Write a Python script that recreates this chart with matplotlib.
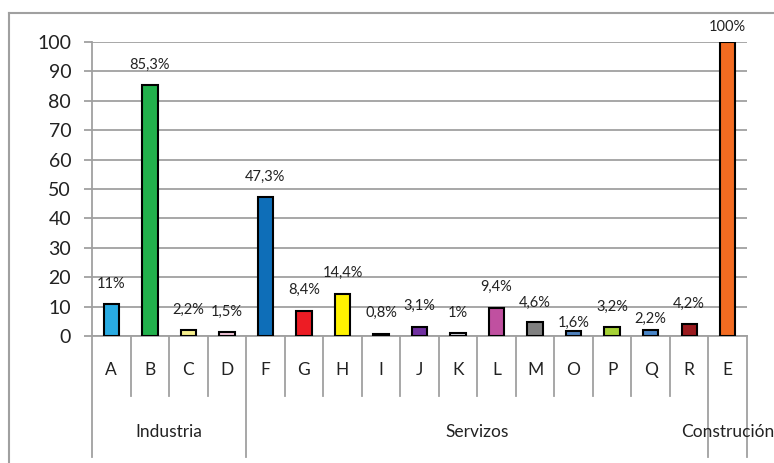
import matplotlib
matplotlib.use("Agg")
import matplotlib.pyplot as plt
from matplotlib.lines import Line2D

plt.rcParams['font.family'] = ['Lato', 'DejaVu Sans']

categories = ["A", "B", "C", "D", "F", "G", "H", "I", "J", "K", "L", "M", "O", "P", "Q", "R", "E"]
values = [11, 85.3, 2.2, 1.5, 47.3, 8.4, 14.4, 0.8, 3.1, 1.0, 9.4, 4.6, 1.6, 3.2, 2.2, 4.2, 100]
labels = ["11%", "85,3%", "2,2%", "1,5%", "47,3%", "8,4%", "14,4%", "0,8%", "3,1%", "1%",
          "9,4%", "4,6%", "1,6%", "3,2%", "2,2%", "4,2%", "100%"]
groups = ["Industria", "Servizos", "Construción"]
group_sizes = [4, 12, 1]
colors = ["#29ABE2", "#22B14C", "#F7F08E", "#F2C6DA", "#0E6EB8", "#ED1C24", "#FFF200", "#1A1A1A",
          "#7030A0", "#D9D9E3", "#C050A0", "#808080", "#4F81BD", "#A6D236", "#4A86C8", "#9B1B1F",
          "#F26B21"]
# label offsets (px above bar top) - styling
label_offsets = [20, 20, 20, 20, 20, 21, 21, 21, 21, 20, 21, 20, 8, 20, 11, 20, 15]

W, H = 774, 463
fig = plt.figure(figsize=(W / 100, H / 100), dpi=100)
ax = fig.add_axes([92 / W, 1 - 336 / H, (747 - 92) / W, (336 - 42) / H])

gray = "#A0A0A0"
x = list(range(len(categories)))
ax.bar(x, values, width=0.4, color=colors, edgecolor="black", linewidth=1.5, zorder=3)
ax.set_xlim(-0.5, len(categories) - 0.5)
ax.set_ylim(0, 100)
ax.set_yticks(range(0, 101, 10))
ax.tick_params(axis="y", length=6, color=gray, width=1.3, labelsize=14, pad=9, labelcolor="#222222")
ax.set_xticks([])
ax.grid(axis="y", color=gray, linewidth=1.3, zorder=0)
for s in ["top", "right"]:
    ax.spines[s].set_visible(False)
for s in ["left", "bottom"]:
    ax.spines[s].set_color(gray)
    ax.spines[s].set_linewidth(1.3)

for xi, v, lab, off in zip(x, values, labels, label_offsets):
    ax.annotate(lab, (xi, v), xytext=(0, off * 0.72), textcoords="offset points",
                ha="center", va="center", fontsize=10.5, color="#222222")

# category table below axis
trans = ax.get_xaxis_transform()
ax_h = 336 - 42
short = -(396 - 336) / ax_h
long_ = -(457 - 336) / ax_h
boundaries = [0]
for g in group_sizes:
    boundaries.append(boundaries[-1] + g)
for b in range(len(categories) + 1):
    xb = b - 0.5
    y1 = long_ if b in boundaries else short
    ax.add_line(Line2D([xb, xb], [0, y1], transform=trans, color=gray, lw=1.3, clip_on=False))
for xi, c in zip(x, categories):
    ax.text(xi, -(370 - 336) / ax_h, c, transform=trans, ha="center", va="center",
            fontsize=12.5, color="#222222")
for i, g in enumerate(groups):
    center = (boundaries[i] + boundaries[i + 1]) / 2 - 0.5
    ax.text(center, -(432 - 336) / ax_h, g, transform=trans, ha="center", va="center",
            fontsize=12.5, color="#222222")

# outer chart border (left and top visible)
fig.add_artist(Line2D([9 / W, 9 / W], [0, 1 - 13 / H], color=gray, lw=1.5))
fig.add_artist(Line2D([9 / W, 1], [1 - 13 / H, 1 - 13 / H], color=gray, lw=1.5))

fig.savefig("out.png", dpi=100, facecolor="white")
